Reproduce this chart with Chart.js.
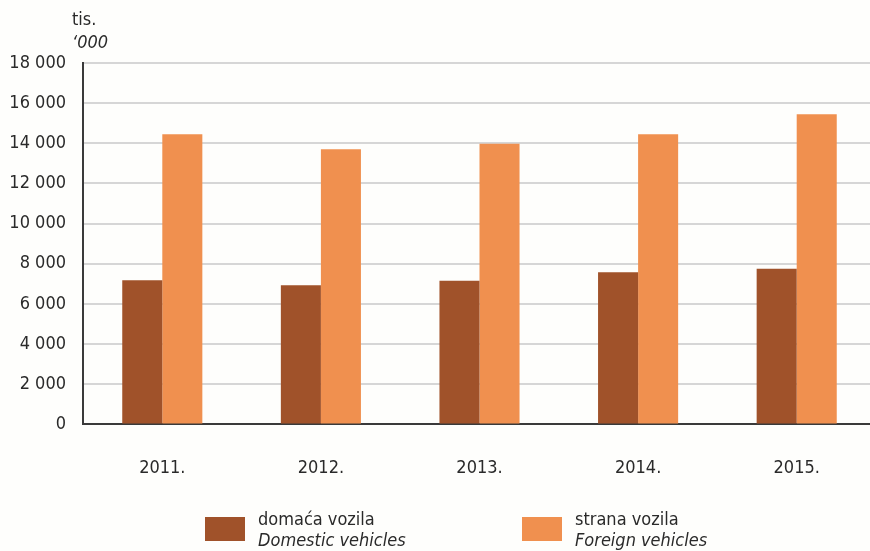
<!DOCTYPE html>
<html>
<head>
<meta charset="utf-8">
<script src="https://cdn.jsdelivr.net/npm/chart.js@4.4.0/dist/chart.umd.min.js"></script>
<style>
  html, body { margin: 0; padding: 0; background: #fefefc; overflow: hidden; }
  #wrap { position: relative; width: 870px; height: 551px; overflow: hidden; font-family: "DejaVu Sans Condensed", "Arial Narrow", sans-serif; color: #2a2a2a; }
  canvas { position: absolute; left: 0; top: 0; }
  .unit { position: absolute; left: 72px; font-size: 18px; line-height: 20px; }
  .leg { position: absolute; top: 508px; display: flex; align-items: center; font-size: 18px; line-height: 21px; }
  .leg .box { width: 40px; height: 24px; margin-right: 13px; }
  .leg i { display: block; }
</style>
</head>
<body>
<div id="wrap">
  <canvas id="chart" width="876" height="551"></canvas>
  <div class="unit" style="top:9px">tis.</div>
  <div class="unit" style="top:32px"><i>‘000</i></div>
  <div class="leg" style="left:205px"><div class="box" style="background:#a0522a"></div><div>domaća vozila<i>Domestic vehicles</i></div></div>
  <div class="leg" style="left:522px"><div class="box" style="background:#f0904f"></div><div>strana vozila<i>Foreign vehicles</i></div></div>
</div>
<script>
const years = ["2011.", "2012.", "2013.", "2014.", "2015."];
const domestic = [7180, 6930, 7150, 7580, 7750];
const foreign = [14450, 13700, 13980, 14450, 15450];
const yTicks = [0, 2000, 4000, 6000, 8000, 10000, 12000, 14000, 16000, 18000];

const fontFam = '"DejaVu Sans Condensed", "Arial Narrow", sans-serif';

const ctx = document.getElementById("chart").getContext("2d");
new Chart(ctx, {
  type: "bar",
  data: {
    labels: years,
    datasets: [
      { label: "domaća vozila", data: domestic, backgroundColor: "#a0522a" },
      { label: "strana vozila", data: foreign, backgroundColor: "#f0904f" },
    ],
  },
  options: {
    responsive: false,
    animation: false,
    layout: { padding: { top: 63, bottom: 39, left: 0, right: 0 } },
    datasets: { bar: { categoryPercentage: 0.505, barPercentage: 1.0 } },
    plugins: { legend: { display: false }, tooltip: { enabled: false } },
    scales: {
      x: {
        grid: { display: false, drawTicks: false },
        border: { display: true, color: "#3a3a3a", width: 2 },
        ticks: { color: "#2a2a2a", padding: 33, font: { family: fontFam, size: 18 } },
      },
      y: {
        min: 0,
        max: 18000,
        afterFit: (scale) => { scale.width = 83; },
        afterBuildTicks: (scale) => { scale.ticks = yTicks.map((v) => ({ value: v })); },
        grid: { color: "#d6d6d6", lineWidth: 2, drawTicks: false },
        border: { display: true, color: "#3a3a3a", width: 2 },
        ticks: {
          color: "#2a2a2a",
          padding: 17,
          font: { family: fontFam, size: 18 },
          callback: (v) => String(v).replace(/\B(?=(\d{3})+(?!\d))/g, " "),
        },
      },
    },
  },
});
</script>
</body>
</html>
